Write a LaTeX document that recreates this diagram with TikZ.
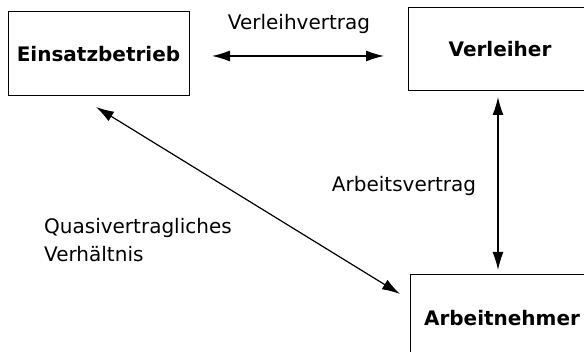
\documentclass[tikz,border=0pt]{standalone}
\usepackage{fontspec}
\setmainfont{DejaVu Sans}
\usetikzlibrary{arrows.meta}
\begin{document}
\begin{tikzpicture}[x=1pt,y=1pt,
  box/.style={draw, line width=1pt, minimum width=#1, inner sep=0pt, font=\fontsize{20}{24}\selectfont\bfseries},
  lbl/.style={font=\fontsize{20}{28}\selectfont, inner sep=0pt},
  conn/.style={line width=1.2pt, {Latex[length=18pt,width=11pt]}-{Latex[length=18pt,width=11pt]}}]
\useasboundingbox (0,0) rectangle (584,352);
\clip (0,0) rectangle (584,352);
\node[box=181pt, minimum height=84pt] (ein) at (98.5,298) {Einsatzbetrieb};
\node[box=184pt, minimum height=83pt] (ver) at (500,302.5) {Verleiher};
\node[box=184pt, minimum height=87pt] (arb) at (502,33.5) {Arbeitnehmer};
\coordinate (h1) at (212,296);
\coordinate (h2) at (384,296);
\coordinate (v1) at (498,255);
\coordinate (v2) at (498,82);
\coordinate (d1) at (96,245);
\coordinate (d2) at (400,58);
\draw[conn] (h1) -- (h2);
\draw[conn] (v1) -- (v2);
\draw[conn] (d1) -- (d2);
\node[lbl] (l1) at (299,328) {Verleihvertrag};
\node[lbl] (l2) at (404,166) {Arbeitsvertrag};
\node[lbl, align=left, anchor=west] (l3) at (44,112) {Quasivertragliches\\Verhältnis};
\end{tikzpicture}
\end{document}
